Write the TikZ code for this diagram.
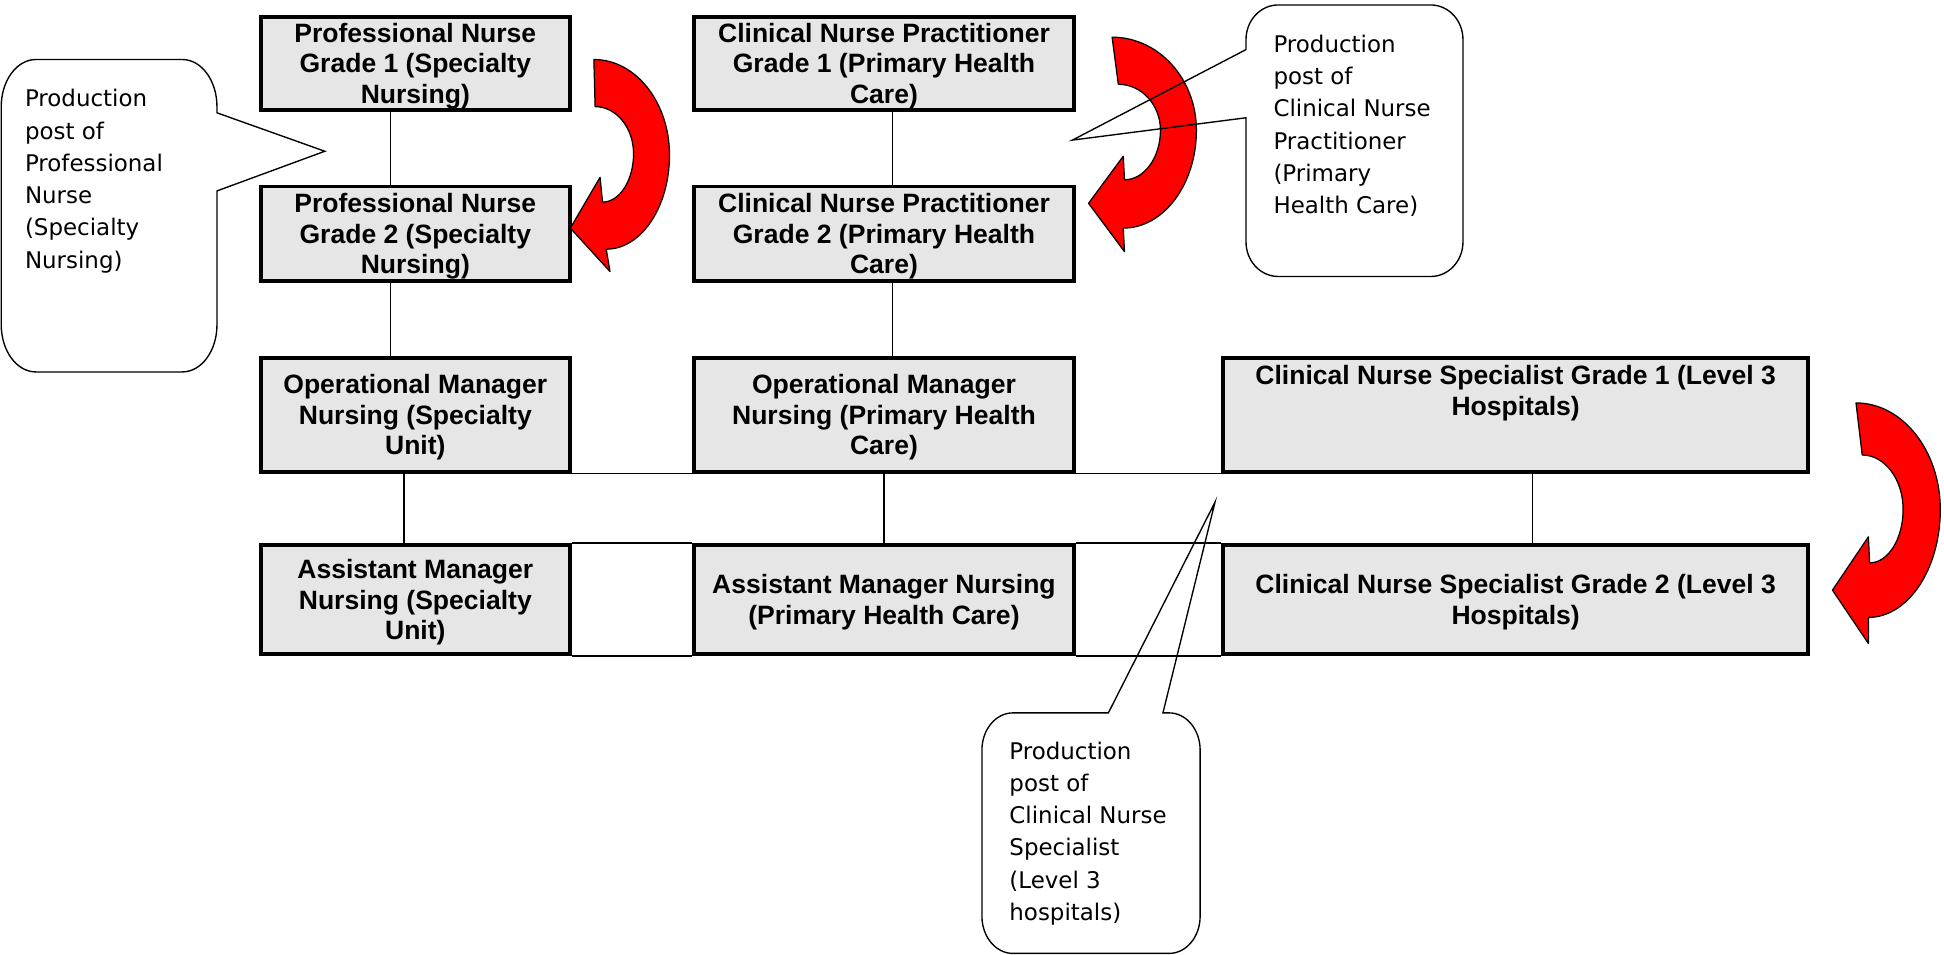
\documentclass[tikz,border=0pt]{standalone}
\usepackage{fontspec}
\setmainfont{Liberation Sans}
\newfontfamily\calloutfont{DejaVu Sans}
\definecolor{boxgray}{RGB}{230,230,230}
\definecolor{arrowred}{RGB}{255,0,0}
\begin{document}
\begin{tikzpicture}[x=1pt,y=-1pt,
  postbase/.style={draw=black, line width=3pt, fill=boxgray, align=center, inner sep=0pt,
    font=\bfseries\fontsize{21.4}{24.5}\selectfont},
  post/.style={postbase, text depth=0pt},
  colA/.style={minimum width=249pt},
  colB/.style={minimum width=307pt},
  colC/.style={minimum width=472pt},
  link/.style={line width=1.1pt},
  rowlink/.style={line width=1.6pt},
  bubble/.style={draw=black, line width=1.1pt},
  bubbletext/.style={align=left, anchor=north west, inner sep=0pt,
    font=\calloutfont\fontsize{18.5}{26}\selectfont},
  turn/.style={draw=black, line width=1pt, fill=arrowred, line join=round}]
\useasboundingbox (0,0) rectangle (1568,770);

% boxes
\node[post, colA, minimum height=75pt] (pn1) at (335,51) {Professional Nurse\\Grade 1 (Specialty\\Nursing)};
\node[post, colA, minimum height=76pt] (pn2) at (335,188.5) {Professional Nurse\\Grade 2 (Specialty\\Nursing)};
\node[post, colA, minimum height=92pt] (oms) at (335,334.5) {Operational Manager\\Nursing (Specialty\\Unit)};
\node[post, colA, minimum height=88pt] (ams) at (335,483.5) {Assistant Manager\\Nursing (Specialty\\Unit)};

\node[post, colB, minimum height=75pt] (cnp1) at (713,51) {Clinical Nurse Practitioner\\Grade 1 (Primary Health\\Care)};
\node[post, colB, minimum height=76pt] (cnp2) at (713,188.5) {Clinical Nurse Practitioner\\Grade 2 (Primary Health\\Care)};
\node[post, colB, minimum height=92pt] (omp) at (713,334.5) {Operational Manager\\Nursing (Primary Health\\Care)};
\node[post, colB, minimum height=88pt] (amp) at (713,483.5) {Assistant Manager Nursing\\(Primary Health Care)};

\node[postbase, colC, minimum height=92pt] (cns1) at (1222.5,334.5) {\parbox[c][79pt][t]{470pt}{\centering Clinical Nurse Specialist Grade 1 (Level 3\\Hospitals)}};
\node[post, colC, minimum height=88pt] (cns2) at (1222.5,483.5) {Clinical Nurse Specialist Grade 2 (Level 3\\Hospitals)};

% vertical connectors
\draw[link] ([xshift=-20pt]pn1.south) -- ([xshift=-20pt]pn2.north);
\draw[link] ([xshift=-20pt]pn2.south) -- ([xshift=-20pt]oms.north);
\draw[link] ([xshift=-9pt]oms.south) -- ([xshift=-9pt]ams.north);
\draw[link] ([xshift=7pt]cnp1.south) -- ([xshift=7pt]cnp2.north);
\draw[link] ([xshift=7pt]cnp2.south) -- ([xshift=7pt]omp.north);
\draw[link] (omp.south) -- (amp.north);
\draw[link] ([xshift=13.5pt]cns1.south) -- ([xshift=13.5pt]cns2.north);

% horizontal connectors
\draw[link] (oms.south east) -- (omp.south west);
\draw[link] (omp.south east) -- (cns1.south west);
\draw[rowlink] (ams.north east) -- (amp.north west);
\draw[rowlink] (ams.south east) -- (amp.south west);
\draw[rowlink] (amp.north east) -- (cns2.north west);
\draw[rowlink] (amp.south east) -- (cns2.south west);

% red curved arrows
\draw[turn] (479,48) .. controls (512.7,48) and (540,82.5) .. (540,125)
  .. controls (540,167) and (517.2,201) .. (489,201) -- (492,219) -- (460,184) -- (484,143) -- (486,163)
  .. controls (499.8,163) and (511,145.5) .. (511,124)
  .. controls (511,103) and (497.1,86) .. (480,86) -- cycle;
\draw[turn] (897,30) .. controls (934.5,30) and (965,63.6) .. (965,105)
  .. controls (965,148.6) and (938.6,184) .. (906,184) -- (907,203) -- (878,164) -- (906,126) -- (907,145)
  .. controls (923,145) and (936,127) .. (936,105)
  .. controls (936,84.6) and (920.8,68) .. (902,68) -- cycle;
\draw[turn] (1497,325) .. controls (1534.5,325) and (1565,363.5) .. (1565,411)
  .. controls (1565,459) and (1539,498) .. (1507,498) -- (1507,519) -- (1478,476) -- (1507,433) -- (1508,454)
  .. controls (1522.9,454) and (1535,434.7) .. (1535,411)
  .. controls (1535,386.7) and (1520.2,367) .. (1502,367) -- cycle;

% callouts
\draw[bubble] (29,48) -- (147,48) .. controls (162.5,48) and (175,65) .. (175,86) -- (175,91) -- (262,122) -- (175,154)
  -- (175,262) .. controls (175,283) and (162.5,300) .. (147,300) -- (29,300)
  .. controls (13.5,300) and (1,283) .. (1,262) -- (1,86) .. controls (1,65) and (13.5,48) .. (29,48) -- cycle;
\node[bubbletext] (cl) at (20,72) {Production\\post of\\Professional\\Nurse\\(Specialty\\Nursing)};

\draw[bubble] (1031,4) -- (1154,4) .. controls (1168.4,4) and (1180,16.5) .. (1180,32)
  -- (1180,195) .. controls (1180,210.5) and (1168.4,223) .. (1154,223) -- (1031,223)
  .. controls (1016.6,223) and (1005,210.5) .. (1005,195) -- (1005,95) -- (865,113) -- (1005,40)
  -- (1005,32) .. controls (1005,16.5) and (1016.6,4) .. (1031,4) -- cycle;
\node[bubbletext] (cr) at (1027,28) {Production\\post of\\Clinical Nurse\\Practitioner\\(Primary\\Health Care)};

\draw[bubble] (817,575) -- (894,575) -- (980,405) -- (938,575) -- (943,575)
  .. controls (956.8,575) and (968,588.4) .. (968,605) -- (968,739)
  .. controls (968,755.6) and (956.8,769) .. (943,769) -- (817,769)
  .. controls (803.2,769) and (792,755.6) .. (792,739) -- (792,605)
  .. controls (792,588.4) and (803.2,575) .. (817,575) -- cycle;
\node[bubbletext] (cb) at (814,598) {Production\\post of\\Clinical Nurse\\Specialist\\(Level 3\\hospitals)};
\end{tikzpicture}
\end{document}
